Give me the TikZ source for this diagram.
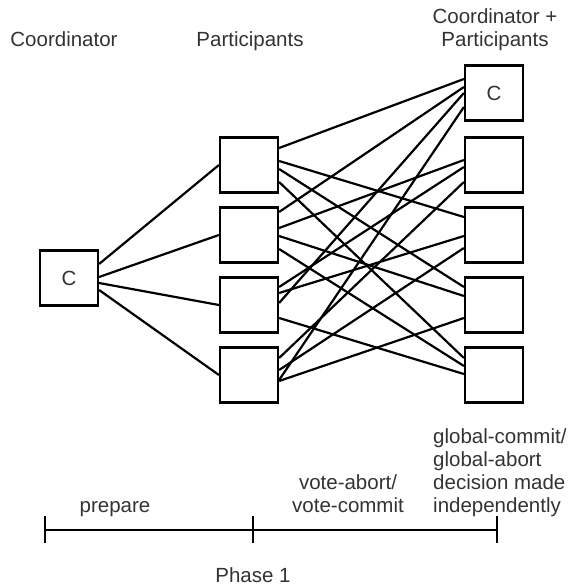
\documentclass[tikz,border=0pt]{standalone}
\usepackage{fontspec}
\setmainfont{Liberation Sans}
\usetikzlibrary{calc}
\newcommand\mylink[4]{\draw[link] ($(#1.east)+(0,#2)$) -- ($(#3.west)+(0,#4)$);}
\begin{document}
\begin{tikzpicture}[x=1pt,y=-1pt,
  box/.style={draw, line width=2.2pt, minimum width=58pt, minimum height=55pt, inner sep=0pt, text=black!80},
  lbl/.style={anchor=base, inner sep=0pt, align=center, text=black!80},
  lbll/.style={anchor=base west, inner sep=0pt, align=left, text=black!80},
  link/.style={line width=2.2pt},
  font=\fontsize{20.5}{23}\selectfont]
\useasboundingbox (0,0) rectangle (573,588);
% headings (anchor base = baseline of the last line)
\node[lbl] (hc) at (64,47) {Coordinator};
\node[lbl] (hp) at (250,47) {Participants};
\node[lbl] (hcp) at (495,47) {Coordinator +\\Participants};
% boxes
\node[box] (c) at (69,278) {C};
\node[box] (p1) at (249,165) {};
\node[box] (p2) at (249,235) {};
\node[box] (p3) at (249,305) {};
\node[box] (p4) at (249,375) {};
\node[box] (r0) at (494,93) {C};
\node[box] (r1) at (494,165) {};
\node[box] (r2) at (494,235) {};
\node[box] (r3) at (494,305) {};
\node[box] (r4) at (494,375) {};
% coordinator to participants
\mylink{c}{-14}{p1}{0}
\mylink{c}{-1}{p2}{0}
\mylink{c}{5}{p3}{0}
\mylink{c}{12}{p4}{0}
% participants to coordinator + participants
\mylink{p1}{-17}{r0}{-14}
\mylink{p1}{-4}{r2}{-18}
\mylink{p1}{4}{r3}{-18}
\mylink{p1}{17}{r4}{-17}
\mylink{p2}{-23}{r0}{-6}
\mylink{p2}{-7}{r1}{-5}
\mylink{p2}{1}{r3}{-9}
\mylink{p2}{14}{r4}{-9}
\mylink{p3}{-18}{r1}{2}
\mylink{p3}{-12}{r2}{1}
\mylink{p3}{-2}{r0}{0}
\mylink{p3}{13}{r4}{-1}
\mylink{p4}{-17}{r1}{17}
\mylink{p4}{-5}{r2}{13}
\mylink{p4}{5}{r0}{14}
\mylink{p4}{6}{r3}{13}
% timeline
\coordinate (t0) at (45,530);
\coordinate (t1) at (253,530);
\coordinate (t2) at (497,530);
\draw[link] (t0) -- (t2);
\foreach \t in {t0,t1,t2} \draw[link] ($(\t)+(0,-14)$) -- ($(\t)+(0,13)$);
\node[lbl] (lprep) at (115,512) {prepare};
\node[lbl] (lvote) at (348,512) {vote-abort/\\vote-commit};
\node[lbll] (lglob) at (433,512) {global-commit/\\global-abort\\decision made\\independently};
\node[lbl] (lphase) at (253,582) {Phase 1};
\end{tikzpicture}
\end{document}
